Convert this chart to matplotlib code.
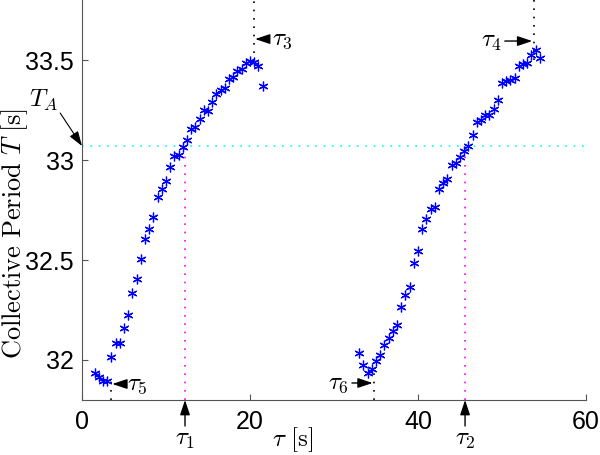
import numpy as np
import matplotlib
matplotlib.use("Agg")
import matplotlib.pyplot as plt

plt.rcParams['font.family'] = ['Liberation Sans', 'DejaVu Sans']
plt.rcParams['mathtext.fontset'] = 'cm'

# left branch (tau in s, collective period in s)
tau_left = [1.5, 2, 2.5, 3, 3.5, 4, 4.5, 5, 5.5, 6, 6.5, 7, 7.5, 8, 8.5, 9, 9.5, 10,
            10.5, 11, 11.5, 12, 12.5, 13, 13.5, 14, 14.5, 15, 15.5, 16, 16.5, 17,
            17.5, 18, 18.5, 19, 19.5, 20, 20.5, 21, 21.5]
period_left = [31.936, 31.916, 31.896, 31.893, 32.013, 32.083, 32.083, 32.161, 32.223,
               32.333, 32.403, 32.503, 32.606, 32.655, 32.713, 32.815, 32.855, 32.896,
               32.966, 33.018, 33.025, 33.066, 33.098, 33.156, 33.166, 33.206, 33.248,
               33.246, 33.288, 33.328, 33.348, 33.358, 33.406, 33.416, 33.446, 33.456,
               33.486, 33.496, 33.491, 33.470, 33.370]

# right branch
tau_right = [33, 33.5, 34, 34.5, 35, 35.5, 36, 36.5, 37, 37.5, 38, 38.5, 39, 39.5, 40,
             40.5, 41, 41.5, 42, 42.5, 43, 43.5, 44, 44.5, 45, 45.5, 46, 46.5, 47, 47.5,
             48, 48.5, 49, 49.5, 50, 50.5, 51, 51.5, 52, 52.5, 53, 53.5, 54, 54.5]
period_right = [32.034, 31.975, 31.935, 31.955, 31.994, 32.024, 32.073, 32.112, 32.144,
                32.174, 32.264, 32.325, 32.365, 32.484, 32.544, 32.655, 32.705, 32.757,
                32.764, 32.855, 32.886, 32.905, 32.977, 32.985, 33.017, 33.044, 33.068,
                33.127, 33.191, 33.200, 33.225, 33.225, 33.257, 33.300, 33.384, 33.394,
                33.402, 33.410, 33.470, 33.479, 33.484, 33.527, 33.549, 33.509]

T_A = 33.07
tau_cross = {'1': 12.26, '2': 45.6}
tau_top = {'3': (20.5, 33.535), '4': (53.8, 33.50)}
tau_bottom = {'5': (3.4, 31.90), '6': (34.8, 31.94)}

xticks = [0, 20, 40, 60]
yticks = [32, 32.5, 33, 33.5]
ytick_labels = ['32', '32.5', '33', '33.5']

fig = plt.figure(figsize=(6, 4.55), dpi=100)
ax = fig.add_axes([0.1367, 0.1209, 0.84, 0.879])

ax.set_xlim(0, 60)
ax.set_ylim(31.8, 33.8)

dots = (0, (1, 4))
ax.plot([0, 60], [T_A, T_A], color='cyan', ls=dots, lw=1.2)
for t in tau_cross.values():
    ax.plot([t, t], [31.8, T_A], color='magenta', ls=dots, lw=1.2)
for t, y in tau_top.values():
    ax.plot([t, t], [y, 33.8], color='black', ls=dots, lw=1.2)
for t, y in tau_bottom.values():
    ax.plot([t, t], [31.8, y], color='black', ls=dots, lw=1.2)

star = (6, 2, 0)
ax.plot(tau_left, period_left, ls='none', marker=star, ms=7, mew=0.9, color='blue')
ax.plot(tau_right, period_right, ls='none', marker=star, ms=7, mew=0.9, color='blue')

arrow = dict(arrowstyle='-|>,head_length=0.9,head_width=0.3', color='black', lw=1,
             shrinkA=0, shrinkB=0, mutation_scale=10)
tfs = 18

# tau1, tau2 below the x axis
for k, t in tau_cross.items():
    ax.annotate('', xy=(t, 31.8), xytext=(t, 31.67), arrowprops=arrow,
                annotation_clip=False)
    ax.text(t, 31.665, r'$\tau_%s$' % k, fontsize=tfs, ha='center', va='top')

# tau3 (text right), tau4 (text left)
ax.annotate(r'$\tau_3$', xy=(20.6, 33.605), xytext=(22.6, 33.605), arrowprops=arrow,
            fontsize=tfs, ha='left', va='center')
ax.annotate(r'$\tau_4$', xy=(53.6, 33.595), xytext=(50.0, 33.595), arrowprops=arrow,
            fontsize=tfs, ha='right', va='center')
ax.annotate(r'$\tau_5$', xy=(3.6, 31.88), xytext=(5.4, 31.88), arrowprops=arrow,
            fontsize=tfs, ha='left', va='center')
ax.annotate(r'$\tau_6$', xy=(34.6, 31.885), xytext=(31.8, 31.885), arrowprops=arrow,
            fontsize=tfs, ha='right', va='center')

# T_A on the y axis
ax.annotate('', xy=(0, T_A), xytext=(-2.6, 33.235),
            arrowprops=dict(arrowstyle='-|>,head_length=0.9,head_width=0.3',
                            color='black', lw=0.8, shrinkA=0, shrinkB=0,
                            mutation_scale=10),
            annotation_clip=False)
ax.text(-4.6, 33.30, r'$T_A$', fontsize=tfs, ha='center', va='center')

ax.set_xticks(xticks)
ax.set_yticks(yticks)
ax.set_yticklabels(ytick_labels)
ax.tick_params(direction='in', length=4, labelsize=18, width=0.8, color='#555555')
ax.tick_params(axis='x', pad=7)
ax.tick_params(axis='y', pad=6)
for s in ['top', 'right']:
    ax.spines[s].set_visible(False)
for s in ['left', 'bottom']:
    ax.spines[s].set_color('#555555')
    ax.spines[s].set_linewidth(0.8)

ax.set_xlabel(r'$\tau\ [\mathrm{s}]$', fontsize=18)
ax.xaxis.set_label_coords(0.418, -0.134)
ax.xaxis.label.set_va('bottom')
ax.set_ylabel(r'$\mathrm{Collective\ Period}\ T\ [\mathrm{s}]$', fontsize=19)
ax.yaxis.set_label_coords(-0.134, 0.4175)
ax.yaxis.label.set_va('center')

fig.savefig('out.png', dpi=100)
